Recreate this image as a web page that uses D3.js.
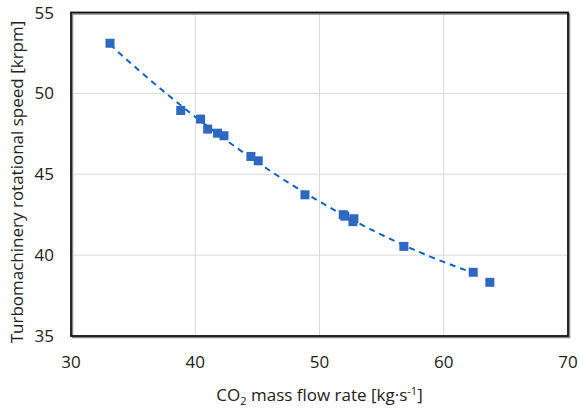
<!DOCTYPE html>
<html>
<head>
<meta charset="utf-8">
<script src="https://cdn.jsdelivr.net/npm/d3@7"></script>
<style>
  body { margin: 0; background: #fff; }
  text { font-family: "Open Sans", Lato, sans-serif; fill: #222; }
</style>
</head>
<body>
<div class="chart"></div>
<script>
// measured points (CO2 mass flow, speed in krpm)
const massFlow = [33.14, 38.83, 40.43, 41.0, 41.80, 42.31, 44.48, 45.07, 48.83,
                  51.91, 52.04, 52.77, 52.69, 56.79, 62.37, 63.71];
const speed    = [53.10, 48.94, 48.41, 47.79, 47.54, 47.38, 46.10, 45.83, 43.73,
                  42.50, 42.41, 42.25, 42.07, 40.54, 38.94, 38.32];
// points used for the trendline (last one left out)
const fitCount = 15;
const xTicks = [30, 40, 50, 60, 70];
const yTicks = [35, 40, 45, 50, 55];

const width = 579, height = 408;
const margin = {top: 12.5, right: 11, bottom: 72, left: 71};

const svg = d3.select('.chart').append('svg')
    .attr('width', width)
    .attr('height', height);

const x = d3.scaleLinear().domain([30, 70]).range([margin.left, width - margin.right]);
const y = d3.scaleLinear().domain([35, 55]).range([height - margin.bottom, margin.top]);

// gridlines
svg.append('g')
    .selectAll('line.vx')
    .data(xTicks.slice(1, -1))
    .enter().append('line')
    .attr('x1', d => x(d)).attr('x2', d => x(d))
    .attr('y1', y(35)).attr('y2', y(55))
    .attr('stroke', '#d9d9d9').attr('stroke-width', 1);

svg.append('g')
    .selectAll('line.hy')
    .data(yTicks.slice(1, -1))
    .enter().append('line')
    .attr('x1', x(30)).attr('x2', x(70))
    .attr('y1', d => y(d)).attr('y2', d => y(d))
    .attr('stroke', '#d9d9d9').attr('stroke-width', 1);

// plot border with a little shadow on the right/bottom
svg.append('rect')
    .attr('x', x(30) + 1.5).attr('y', y(55) + 1.5)
    .attr('width', x(70) - x(30)).attr('height', y(35) - y(55))
    .attr('fill', 'none').attr('stroke', '#888').attr('stroke-width', 1.5);
svg.append('rect')
    .attr('x', x(30)).attr('y', y(55))
    .attr('width', x(70) - x(30)).attr('height', y(35) - y(55))
    .attr('fill', 'none').attr('stroke', '#111').attr('stroke-width', 1.8);

// quadratic least-squares trendline
const pts = massFlow.slice(0, fitCount).map((m, i) => [m, speed[i]]);
function polyFit2(p) {
  let s = [0, 0, 0, 0, 0], t = [0, 0, 0];
  p.forEach(([a, b]) => {
    for (let k = 0; k < 5; k++) s[k] += Math.pow(a, k);
    for (let k = 0; k < 3; k++) t[k] += b * Math.pow(a, k);
  });
  const M = [[s[0], s[1], s[2], t[0]], [s[1], s[2], s[3], t[1]], [s[2], s[3], s[4], t[2]]];
  for (let i = 0; i < 3; i++) {
    for (let j = i + 1; j < 3; j++) {
      const f = M[j][i] / M[i][i];
      for (let k = i; k < 4; k++) M[j][k] -= f * M[i][k];
    }
  }
  const c = [0, 0, 0];
  for (let i = 2; i >= 0; i--) {
    let v = M[i][3];
    for (let k = i + 1; k < 3; k++) v -= M[i][k] * c[k];
    c[i] = v / M[i][i];
  }
  return c;
}
const coef = polyFit2(pts);
const xMin = d3.min(pts, d => d[0]), xMax = d3.max(pts, d => d[0]);
const trend = d3.range(0, 61).map(i => {
  const m = xMin + (xMax - xMin) * i / 60;
  return [m, coef[0] + coef[1] * m + coef[2] * m * m];
});

svg.append('path')
    .datum(trend)
    .attr('d', d3.line().x(d => x(d[0])).y(d => y(d[1])))
    .attr('fill', 'none')
    .attr('stroke', '#0b63c1')
    .attr('stroke-width', 2)
    .attr('stroke-dasharray', '6,5');

// markers
svg.append('g')
    .selectAll('rect')
    .data(massFlow.map((m, i) => [m, speed[i]]))
    .enter().append('rect')
    .attr('x', d => x(d[0]) - 4.5)
    .attr('y', d => y(d[1]) - 4.5)
    .attr('width', 9).attr('height', 9)
    .attr('fill', '#2f68c0');

// tick labels
svg.append('g')
    .selectAll('text')
    .data(xTicks)
    .enter().append('text')
    .attr('x', d => x(d))
    .attr('y', height - margin.bottom + 32)
    .attr('text-anchor', 'middle')
    .attr('font-size', 17)
    .text(d => d);

svg.append('g')
    .selectAll('text')
    .data(yTicks)
    .enter().append('text')
    .attr('x', margin.left - 17)
    .attr('y', d => y(d) + 6)
    .attr('text-anchor', 'end')
    .attr('font-size', 17)
    .text(d => d);

// axis titles
const xt = svg.append('text')
    .attr('x', (x(30) + x(70)) / 2)
    .attr('y', 401)
    .attr('text-anchor', 'middle')
    .attr('font-size', 17);
xt.append('tspan').text('CO');
xt.append('tspan').attr('font-size', 11).attr('dy', 4).text('2');
xt.append('tspan').attr('dy', -4).text(' mass flow rate [kg·s');
xt.append('tspan').attr('font-size', 11).attr('dy', -6).text('-1');
xt.append('tspan').attr('dy', 6).text(']');

svg.append('text')
    .attr('transform', 'translate(23, 182) rotate(-90)')
    .attr('text-anchor', 'middle')
    .attr('font-size', 17)
    .text('Turbomachinery rotational speed [krpm]');
</script>
</body>
</html>
